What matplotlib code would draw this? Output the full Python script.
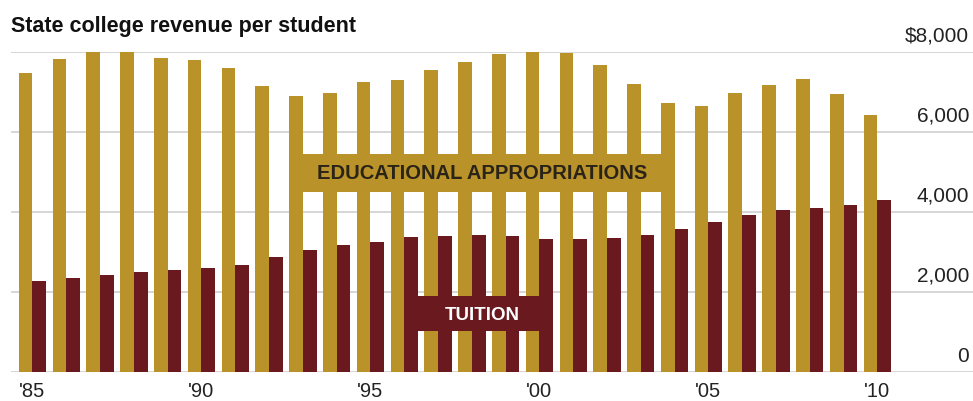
import matplotlib
matplotlib.use("Agg")
import matplotlib.pyplot as plt
from matplotlib.patches import Rectangle
import numpy as np

years = list(range(1985, 2011))
appropriations = [7480, 7825, 8000, 8000, 7850, 7800, 7600, 7150, 6900, 6975,
                  7250, 7300, 7550, 7750, 7950, 8025, 7975, 7675, 7200, 6725,
                  6650, 6975, 7175, 7325, 6950, 6425]
tuition = [2275, 2360, 2425, 2490, 2540, 2590, 2675, 2880, 3060, 3175,
           3260, 3370, 3400, 3425, 3405, 3325, 3330, 3345, 3420, 3585,
           3750, 3925, 4050, 4100, 4175, 4300]
tick_years = [1985, 1990, 1995, 2000, 2005, 2010]
tick_labels = ["'85", "'90", "'95", "'00", "'05", "'10"]
ytick_vals = [0, 2000, 4000, 6000, 8000]
ytick_labels = ["0", "2,000", "4,000", "6,000", "$8,000"]

GOLD = "#B9922A"
MAROON = "#6A1A1F"
W, H, DPI = 973, 402, 100

plt.rcParams['font.family'] = ['Liberation Sans', 'DejaVu Sans']
fig = plt.figure(figsize=(W / DPI, H / DPI), dpi=DPI)
ax = fig.add_axes([11 / W, (H - 373) / H, (W - 11) / W, 320 / H])

x = np.array(years, dtype=float)
bw = 0.405
ax.bar(x - bw / 2, appropriations, width=bw, color=GOLD, zorder=2, linewidth=0)
ax.bar(x + bw / 2, tuition, width=bw, color=MAROON, zorder=2, linewidth=0)

for v in ytick_vals:
    ax.axhline(v, color="#cfcfcf", lw=1.2, zorder=1)

ax.set_xlim(1985 - 0.636, 1985 + 27.83)
ax.set_ylim(0, 8000)

# label boxes
gx0 = years[8] - bw
gx1 = years[19]
ax.add_patch(Rectangle((gx0, 4500), gx1 - gx0, 950, facecolor=GOLD, edgecolor='none', zorder=3))
ax.text((gx0 + gx1) / 2, 4975, "EDUCATIONAL APPROPRIATIONS", ha='center', va='center',
        fontsize=14.5, fontweight='bold', color="#2a2418", zorder=4)
mx0 = years[11]
mx1 = years[15] + bw
ax.add_patch(Rectangle((mx0, 1025), mx1 - mx0, 875, facecolor=MAROON, edgecolor='none', zorder=3))
ax.text((mx0 + mx1) / 2 + 0.1, 1440, "TUITION", ha='center', va='center',
        fontsize=13.5, fontweight='bold', color="white", zorder=4)

for s in ax.spines.values():
    s.set_visible(False)
ax.set_yticks([])
ax.set_xticks(tick_years)
ax.set_xticklabels(tick_labels, fontsize=14.5, color="#222222")
ax.tick_params(axis='x', length=0, pad=6.5)

xr = (969 - 11) / (W - 11)
for v, lab in zip(ytick_vals, ytick_labels):
    ax.text(xr, v + 275, lab, transform=ax.get_yaxis_transform(), ha='right', va='baseline',
            fontsize=15, color="#222222")

fig.text(11 / W, 1 - 32 / H, "State college revenue per student", ha='left', va='baseline',
         fontsize=15.5, fontweight='bold', color="#111111")

fig.savefig("out.png", dpi=DPI)
